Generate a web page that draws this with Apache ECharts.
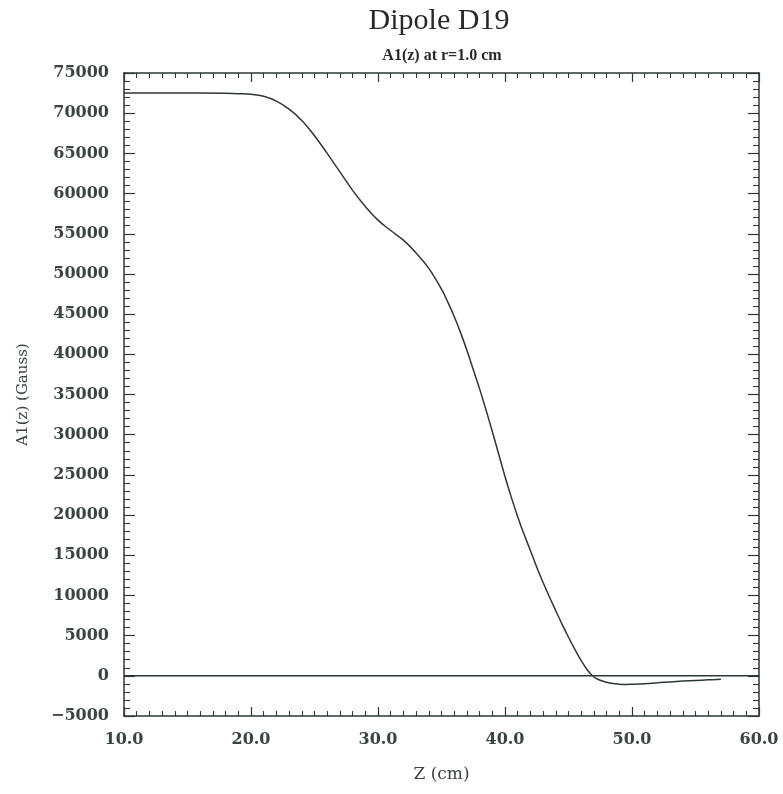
<!DOCTYPE html>
<html>
<head>
<meta charset="utf-8">
<script src="https://cdn.jsdelivr.net/npm/echarts@6/dist/echarts.min.js"></script>
<style>
  html, body { margin: 0; padding: 0; background: #ffffff; }
  #chart { width: 783px; height: 794px; }
</style>
</head>
<body>
<div id="chart"></div>
<script>
// Longitudinal position along the magnet, cm
const zValues = [
  10, 12, 14, 16, 18, 19, 20, 21, 22, 23, 24, 25, 26, 27, 28, 29, 30, 31, 32, 33,
  34, 35, 35.5, 36, 36.5, 37, 37.5, 38, 38.5, 39, 39.5, 40, 40.5, 41, 41.5,
  42, 42.5, 43, 43.5, 44, 44.5, 45, 45.5, 46, 46.5, 47, 47.5, 48, 48.5, 49, 49.5,
  50, 51, 52, 53, 54, 55, 56, 57
];
// Dipole harmonic A1(z) at r = 1.0 cm, Gauss
const a1Values = [
  72500, 72500, 72500, 72500, 72470, 72430, 72350, 72100, 71500, 70500, 69100, 67200, 65000, 62700, 60400, 58400, 56700, 55400, 54200, 52600,
  50700, 48100, 46500, 44700, 42700, 40500, 38100, 35700, 33100, 30400, 27600, 24800, 22200, 19800, 17600,
  15600, 13500, 11600, 9800, 8100, 6400, 4800, 3300, 1900, 700, -150, -550, -800, -960, -1040, -1070,
  -1050, -980, -870, -760, -660, -580, -500, -430
];
// Reference baseline across the full z range
const baseZ = [10, 60];
const baseA1 = [0, 0];

const xTicks = { min: 10, max: 60, interval: 10 };
const yTicks = { min: -5000, max: 75000, interval: 5000 };

const ink = '#2e3833';
const labelInk = '#3a4440';
const labelFont = '"DejaVu Serif", "Liberation Serif", serif';
const titleFont = '"Liberation Serif", "DejaVu Serif", serif';

function axisCommon(extra) {
  return Object.assign({
    axisLine: { show: true, onZero: false, lineStyle: { color: ink, width: 1.5 } },
    axisTick: { show: true, inside: true, length: 9, lineStyle: { color: ink, width: 1.2 } },
    splitLine: { show: false },
    minorSplitLine: { show: false }
  }, extra);
}

const chart = echarts.init(document.getElementById('chart'), null, { renderer: 'canvas' });

chart.setOption({
  animation: false,
  backgroundColor: '#ffffff',
  title: [
    {
      text: 'Dipole D19',
      left: 434, top: 1, textAlign: 'center',
      textStyle: { fontFamily: titleFont, fontSize: 30, fontWeight: 'normal', color: '#262b28' }
    },
    {
      text: 'A1(z) at r=1.0 cm',
      left: 437, top: 43, textAlign: 'center',
      textStyle: { fontFamily: titleFont, fontSize: 16, fontWeight: 'bold', color: '#262b28' }
    }
  ],
  grid: { left: 124, right: 24, top: 73, bottom: 78, containLabel: false },
  xAxis: [
    axisCommon({
      type: 'value', position: 'bottom',
      min: xTicks.min, max: xTicks.max, interval: xTicks.interval,
      minorTick: { show: true, splitNumber: 10, length: 5, lineStyle: { color: ink, width: 1.1 } },
      axisLabel: {
        margin: 16, color: labelInk, fontSize: 16, fontFamily: labelFont, fontWeight: 'bold',
        formatter: v => v.toFixed(1)
      },
      name: 'Z (cm)', nameLocation: 'middle', nameGap: 50,
      nameTextStyle: { fontFamily: labelFont, fontSize: 17, color: labelInk }
    }),
    axisCommon({
      type: 'value', position: 'top',
      min: xTicks.min, max: xTicks.max, interval: xTicks.interval,
      minorTick: { show: true, splitNumber: 10, length: 5, lineStyle: { color: ink, width: 1.1 } },
      axisLabel: { show: false }
    })
  ],
  yAxis: [
    axisCommon({
      type: 'value', position: 'left',
      min: yTicks.min, max: yTicks.max, interval: yTicks.interval,
      minorTick: { show: true, splitNumber: 5, length: 6, lineStyle: { color: ink, width: 1.1 } },
      axisTick: { show: true, inside: true, length: 11, lineStyle: { color: ink, width: 1.2 } },
      axisLabel: {
        margin: 15, color: labelInk, fontSize: 16, fontFamily: labelFont, fontWeight: 'bold',
        formatter: v => String(v).replace('-', '\u2212')
      },
      name: 'A1(z) (Gauss)', nameLocation: 'middle', nameGap: 93, nameRotate: 90,
      nameTextStyle: { fontFamily: labelFont, fontSize: 15, color: labelInk }
    }),
    axisCommon({
      type: 'value', position: 'right',
      min: yTicks.min, max: yTicks.max, interval: yTicks.interval,
      minorTick: { show: true, splitNumber: 5, length: 6, lineStyle: { color: ink, width: 1.1 } },
      axisTick: { show: true, inside: true, length: 11, lineStyle: { color: ink, width: 1.2 } },
      axisLabel: { show: false }
    })
  ],
  series: [
    {
      type: 'line', name: 'baseline',
      xAxisIndex: 0, yAxisIndex: 0,
      data: baseZ.map((z, i) => [z, baseA1[i]]),
      showSymbol: false, silent: true,
      lineStyle: { color: ink, width: 1.4 }
    },
    {
      type: 'line', name: 'A1(z)',
      xAxisIndex: 0, yAxisIndex: 0,
      data: zValues.map((z, i) => [z, a1Values[i]]),
      showSymbol: false, smooth: 0.4,
      lineStyle: { color: ink, width: 1.5 }
    }
  ]
});
</script>
</body>
</html>
